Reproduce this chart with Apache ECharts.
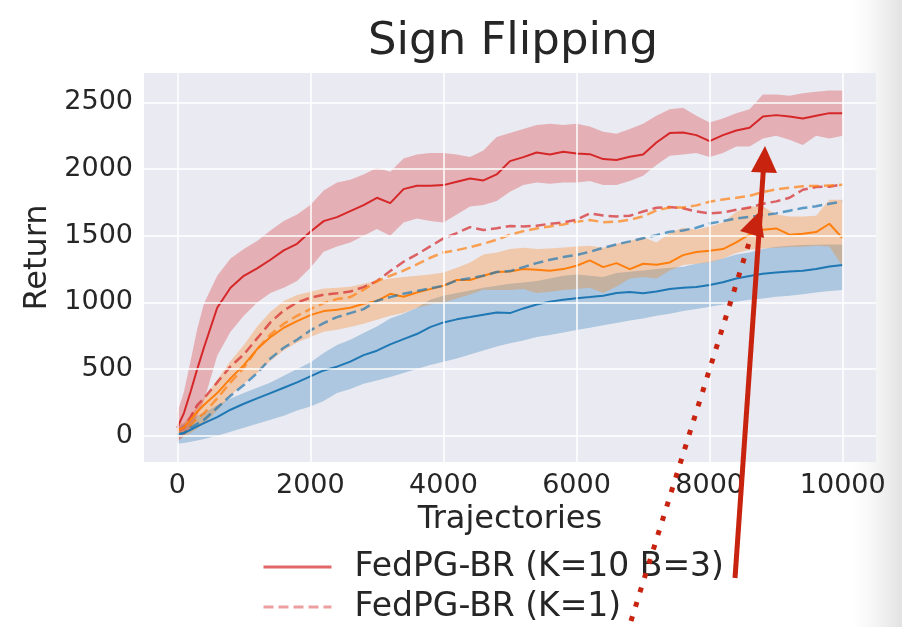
<!DOCTYPE html>
<html>
<head>
<meta charset="utf-8">
<script src="https://cdn.jsdelivr.net/npm/echarts@6/dist/echarts.min.js"></script>
<style>html,body{margin:0;padding:0;background:#fff}#c{width:902px;height:627px}</style>
</head>
<body>
<div id="c"></div>
<script>
const xs = [0,100,200,300,400,600,800,1000,1200,1400,1600,1800,2000,2200,2400,2600,2800,3000,3200,3400,3600,3800,4000,4200,4400,4600,4800,5000,5200,5400,5600,5800,6000,6200,6400,6600,6800,7000,7200,7400,7600,7800,8000,8200,8400,8600,8800,9000,9200,9400,9600,9800,10000];
const xTicks = [0,2000,4000,6000,8000,10000];
const yTicks = [0,500,1000,1500,2000,2500];

const redMean  = [60,170,330,500,660,960,1110,1200,1255,1320,1390,1440,1530,1610,1640,1685,1730,1785,1745,1850,1875,1875,1880,1905,1930,1915,1960,2060,2090,2125,2110,2130,2118,2112,2075,2068,2093,2110,2200,2270,2275,2255,2210,2255,2290,2310,2395,2405,2395,2380,2400,2420,2420];
const redUpper = [170,330,560,800,990,1200,1330,1400,1460,1540,1610,1660,1730,1840,1900,1920,1960,2010,1980,2080,2110,2120,2120,2110,2090,2140,2240,2270,2300,2330,2340,2330,2340,2320,2280,2265,2300,2340,2400,2450,2460,2400,2350,2380,2420,2450,2560,2560,2550,2570,2580,2590,2590];
const redLower = [-50,0,60,150,260,600,780,900,1000,1070,1110,1160,1260,1380,1420,1450,1500,1550,1500,1600,1630,1610,1600,1660,1720,1730,1760,1830,1880,1900,1890,1900,1900,1910,1880,1880,1910,1950,2030,2100,2110,2120,2090,2120,2170,2170,2230,2250,2220,2180,2250,2230,2250];
const redDash  = [40,60,140,230,280,400,520,610,730,850,940,1000,1035,1058,1068,1082,1115,1160,1235,1305,1360,1420,1480,1520,1565,1543,1556,1573,1570,1576,1590,1600,1620,1668,1652,1645,1650,1682,1710,1715,1706,1682,1668,1675,1695,1712,1740,1758,1785,1845,1866,1868,1885];

const orangeMean  = [40,60,120,180,230,320,430,530,650,740,810,860,905,935,945,960,990,1010,1065,1043,1075,1100,1125,1168,1168,1200,1228,1232,1250,1245,1238,1250,1275,1315,1265,1295,1250,1290,1282,1300,1355,1378,1388,1400,1450,1510,1545,1555,1508,1515,1528,1590,1480];
const orangeUpper = [80,100,160,220,280,420,560,680,820,930,1010,1055,1080,1105,1110,1118,1140,1160,1180,1190,1200,1210,1225,1260,1300,1360,1375,1400,1410,1400,1405,1412,1420,1425,1410,1440,1460,1490,1450,1520,1560,1545,1570,1600,1680,1720,1720,1660,1645,1645,1650,1770,1770];
const orangeLower = [-30,-10,20,55,90,190,300,390,470,560,640,700,740,780,795,815,840,870,900,920,960,985,1000,1030,1060,1095,1093,1093,1100,1070,1080,1093,1100,1110,1070,1120,1180,1190,1180,1240,1280,1290,1300,1330,1370,1395,1405,1410,1415,1418,1425,1420,1270];
const orangeDash  = [20,20,80,130,168,280,400,510,650,760,840,900,950,995,1025,1040,1095,1160,1200,1238,1285,1335,1375,1392,1415,1440,1470,1508,1535,1555,1570,1585,1605,1618,1602,1605,1620,1645,1690,1712,1712,1728,1755,1772,1785,1800,1828,1848,1860,1872,1873,1878,1882];

const blueMean  = [10,20,45,70,95,140,195,240,280,320,360,400,445,490,518,556,605,638,685,725,763,815,850,873,890,908,925,920,955,985,1006,1020,1032,1040,1050,1070,1078,1068,1082,1100,1110,1116,1130,1152,1180,1198,1215,1225,1232,1238,1250,1270,1280];
const blueUpper = [70,90,120,150,170,230,280,320,360,400,450,500,550,620,680,720,770,820,880,915,960,1020,1050,1070,1090,1110,1125,1140,1150,1160,1180,1200,1210,1200,1190,1220,1230,1240,1250,1260,1268,1290,1306,1330,1360,1375,1400,1418,1425,1430,1432,1435,1435];
const blueLower = [-60,-55,-45,-35,-25,0,30,60,90,120,150,190,220,260,320,350,390,415,440,470,500,530,555,580,610,640,670,693,715,740,755,775,793,810,828,845,865,880,900,915,935,950,968,985,1005,1020,1030,1043,1050,1062,1075,1085,1093];
const blueDash  = [10,20,60,90,118,210,300,380,470,580,660,720,790,845,890,920,950,1012,1040,1065,1085,1105,1125,1165,1182,1200,1228,1235,1265,1295,1320,1340,1356,1380,1410,1435,1458,1482,1505,1530,1540,1560,1592,1610,1630,1642,1655,1668,1688,1708,1722,1740,1758];

const legendNames = ['FedPG-BR (K=10 B=3)', 'FedPG-BR (K=1)'];

const RED = '#d62728', ORANGE = '#ff7f0e', BLUE = '#1f77b4';
const FONT = 'DejaVu Sans';
const TXT = '#262626';

function pairs(ys) { return xs.map((x, i) => [x, ys[i]]); }

function band(id, up, lo, color) {
  return {
    type: 'custom', id: id, silent: true, z: 1, clip: true,
    data: xs.map((x, i) => [x, lo[i], up[i]]),
    encode: { x: 0, y: [1, 2] },
    renderItem: function (params, api) {
      if (params.dataIndex !== 0) return null;
      const pts = [];
      for (let i = 0; i < xs.length; i++) pts.push(api.coord([xs[i], up[i]]));
      for (let i = xs.length - 1; i >= 0; i--) pts.push(api.coord([xs[i], lo[i]]));
      return { type: 'polygon', shape: { points: pts }, style: { fill: color, opacity: 0.3 } };
    }
  };
}
function solid(name, ys, color) {
  return { type: 'line', name: name, data: pairs(ys), symbol: 'none', silent: true, z: 3,
    itemStyle: { color: color }, lineStyle: { color: color, width: 2 } };
}
function dashed(name, ys, color) {
  return { type: 'line', name: name, data: pairs(ys), symbol: 'none', silent: true, z: 3,
    itemStyle: { color: color }, lineStyle: { color: color, width: 2.5, type: [10, 5], opacity: 0.7 } };
}

const gridLines = {
  type: 'line', data: [], silent: true, z: 0,
  markLine: {
    silent: true, symbol: ['none', 'none'], animation: false,
    label: { show: false }, emphasis: { disabled: true },
    lineStyle: { color: '#ffffff', width: 1.5, type: 'solid', opacity: 1 },
    data: xTicks.map(v => ({ xAxis: v })).concat(yTicks.map(v => ({ yAxis: v })))
  }
};

const chart = echarts.init(document.getElementById('c'), null, { renderer: 'canvas' });
chart.setOption({
  animation: false,
  backgroundColor: '#ffffff',
  textStyle: { fontFamily: FONT },
  title: {
    text: 'Sign Flipping', left: 363, top: 15,
    textStyle: { fontFamily: FONT, fontSize: 45, fontWeight: 'normal', color: TXT }
  },
  grid: { left: 144, right: 26, top: 73, bottom: 165, show: true, backgroundColor: '#eaeaf2', borderWidth: 0 },
  legend: {
    data: [
      { name: legendNames[0], lineStyle: { opacity: 0.7 } },
      { name: legendNames[1], lineStyle: { opacity: 0.45 } }
    ],
    orient: 'vertical', left: 262, top: 548, padding: 0, itemWidth: 68, itemHeight: 14, itemGap: 2,
    selectedMode: false,
    textStyle: { fontFamily: FONT, fontSize: 33, color: TXT, padding: [0, 0, 0, 18], lineHeight: 38 },
    itemStyle: { opacity: 0 },
    lineStyle: { width: 3 }
  },
  xAxis: {
    type: 'value', min: -500, max: 10500,
    axisLine: { show: false }, axisTick: { show: false }, splitLine: { show: false },
    axisLabel: { customValues: xTicks, formatter: v => String(v), fontFamily: FONT, fontSize: 27, color: TXT, margin: 10 },
    name: 'Trajectories', nameLocation: 'middle', nameGap: 39,
    nameTextStyle: { fontFamily: FONT, fontSize: 32, color: TXT }
  },
  yAxis: {
    type: 'value', min: -197, max: 2721,
    axisLine: { show: false }, axisTick: { show: false }, splitLine: { show: false },
    axisLabel: { customValues: yTicks, formatter: v => String(v), fontFamily: FONT, fontSize: 27, color: TXT, margin: 11 },
    name: 'Return', nameLocation: 'middle', nameGap: 81,
    nameTextStyle: { fontFamily: FONT, fontSize: 32, color: TXT, padding: [0, 0, 0, 20] }
  },
  series: [
    gridLines,
    band('blueBand', blueUpper, blueLower, BLUE),
    band('orangeBand', orangeUpper, orangeLower, ORANGE),
    band('redBand', redUpper, redLower, RED),
    solid(legendNames[0], redMean, RED),
    dashed(legendNames[1], redDash, RED),
    solid('orangeSolid', orangeMean, ORANGE),
    dashed('orangeDashed', orangeDash, ORANGE),
    solid('blueSolid', blueMean, BLUE),
    dashed('blueDashed', blueDash, BLUE)
  ],
  graphic: [
    { type: 'rect', z: -10, silent: true, shape: { x: 852, y: 0, width: 50, height: 627 },
      style: { fill: new echarts.graphic.LinearGradient(0, 0, 1, 0, [
        { offset: 0, color: 'rgba(238,238,238,0)' }, { offset: 1, color: 'rgba(226,226,226,1)' }]) } },
    { type: 'line', z: 100, silent: true, shape: { x1: 735, y1: 578, x2: 763.5, y2: 168 },
      style: { stroke: '#c8230f', lineWidth: 5 } },
    { type: 'polygon', z: 100, silent: true, shape: { points: [[765, 146], [751, 172], [777, 173]] },
      style: { fill: '#c8230f' } },
    { type: 'line', z: 100, silent: true, shape: { x1: 631, y1: 621, x2: 749, y2: 243 },
      style: { stroke: '#c8230f', lineWidth: 5, lineDash: [5, 10] } },
    { type: 'polygon', z: 100, silent: true, shape: { points: [[760, 211], [740, 231], [764, 238]] },
      style: { fill: '#c8230f' } }
  ]
});
</script>
</body>
</html>
